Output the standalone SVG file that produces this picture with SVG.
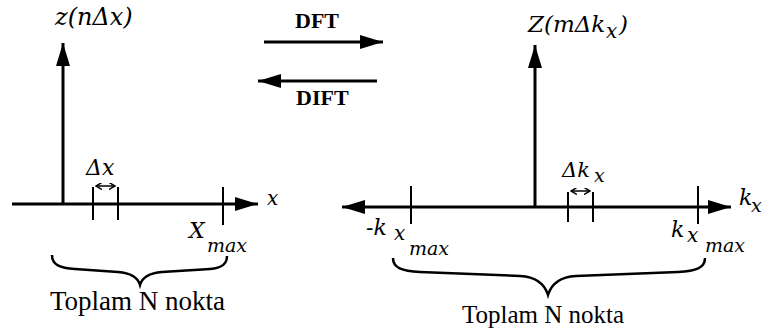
<svg xmlns="http://www.w3.org/2000/svg" width="762" height="335" viewBox="0 0 762 335">
<style>
.ax{stroke:#000;stroke-width:3;fill:none}
.tk{stroke:#000;stroke-width:2;fill:none}
.br{stroke:#000;stroke-width:2.5;fill:none;stroke-linejoin:miter}
</style>
<defs>
<marker id="ah" markerUnits="userSpaceOnUse" markerWidth="24" markerHeight="14" refX="23" refY="7" orient="auto">
<path d="M0,0 L23,7 L0,14 z" fill="#000"/>
</marker>
<marker id="ahs" markerUnits="userSpaceOnUse" markerWidth="24" markerHeight="14" refX="23" refY="7" orient="auto-start-reverse">
<path d="M0,0 L23,7 L0,14 z" fill="#000"/>
</marker>
<marker id="sa" markerUnits="userSpaceOnUse" markerWidth="7" markerHeight="7" refX="6" refY="3.5" orient="auto-start-reverse">
<path d="M0,0 L6,3.5 L0,7" fill="none" stroke="#000" stroke-width="1.5"/>
</marker>
</defs>

<g id="connectors">
<line class="ax" x1="264" y1="42" x2="383" y2="42" marker-end="url(#ah)"/>
<line class="ax" x1="377" y1="81" x2="258" y2="81" marker-end="url(#ah)"/>
</g>

<g id="labels-transform">
<text x="295" y="28" font-size="22" font-family="Liberation Serif" font-weight="bold">DFT</text>
<text x="296" y="105" font-size="22" font-family="Liberation Serif" font-weight="bold">DIFT</text>
</g>

<g id="left-plot">
<line class="ax" x1="63" y1="204" x2="63" y2="43" marker-end="url(#ah)"/>
<line class="ax" x1="12" y1="204" x2="258" y2="204" marker-end="url(#ah)"/>
<line class="tk" x1="93" y1="187" x2="93" y2="220"/>
<line class="tk" x1="118" y1="187" x2="118" y2="220"/>
<line class="tk" x1="223" y1="187" x2="223" y2="225"/>
<line x1="96" y1="186" x2="115" y2="186" stroke="#000" stroke-width="1.5" marker-start="url(#sa)" marker-end="url(#sa)"/>
<text x="55" y="25" font-size="24" font-family="DejaVu Serif" font-style="italic">z(nΔx)</text>
<text x="86" y="175" font-size="22" font-family="DejaVu Serif" font-style="italic">Δx</text>
<text x="267" y="205" font-size="20" font-family="DejaVu Serif" font-style="italic">x</text>
<text x="189" y="238" font-size="22" font-family="DejaVu Serif" font-style="italic">X</text>
<text x="207" y="252" font-size="19" font-family="DejaVu Serif" font-style="italic">max</text>
<path class="br" d="M52,255 C52,265 60,268 75,269 L118,272 C131,273 138,278 140,285 C142,278 149,273 162,272 L210,269 C222,268 227,264 227,256"/>
<text x="50" y="310" font-size="27" font-family="Liberation Serif">Toplam N nokta</text>
</g>

<g id="right-plot">
<line class="ax" x1="535" y1="207" x2="535" y2="45" marker-end="url(#ah)"/>
<line class="ax" x1="342" y1="207" x2="731" y2="207" marker-start="url(#ahs)" marker-end="url(#ah)"/>
<line class="tk" x1="411" y1="186" x2="411" y2="224"/>
<line class="tk" x1="698" y1="186" x2="698" y2="224"/>
<line class="tk" x1="568" y1="192" x2="568" y2="222"/>
<line class="tk" x1="593" y1="192" x2="593" y2="222"/>
<line x1="571" y1="191" x2="590" y2="191" stroke="#000" stroke-width="1.5" marker-start="url(#sa)" marker-end="url(#sa)"/>
<text x="528" y="32" font-size="23" font-family="DejaVu Serif" font-style="italic">Z(mΔk</text>
<text x="606" y="38" font-size="20" font-family="DejaVu Serif" font-style="italic">x</text>
<text x="619" y="32" font-size="23" font-family="DejaVu Serif" font-style="italic">)</text>
<text x="562" y="177" font-size="21" font-family="DejaVu Serif" font-style="italic">Δk</text>
<text x="594" y="182" font-size="19" font-family="DejaVu Serif" font-style="italic">x</text>
<text x="739" y="205" font-size="22" font-family="DejaVu Serif" font-style="italic">k</text>
<text x="751" y="212" font-size="19" font-family="DejaVu Serif" font-style="italic">x</text>
<text x="366" y="235" font-size="22" font-family="DejaVu Serif" font-style="italic">-k</text>
<text x="394" y="240" font-size="20" font-family="DejaVu Serif" font-style="italic">x</text>
<text x="409" y="255" font-size="19" font-family="DejaVu Serif" font-style="italic">max</text>
<text x="671" y="237" font-size="22" font-family="DejaVu Serif" font-style="italic">k</text>
<text x="687" y="242" font-size="20" font-family="DejaVu Serif" font-style="italic">x</text>
<text x="705" y="252" font-size="19" font-family="DejaVu Serif" font-style="italic">max</text>
<path class="br" d="M393,258 C393,268 402,271 420,272 L520,276 C538,277 545,285 548,295 C551,285 558,277 576,276 L678,272 C696,271 705,268 705,258"/>
<text x="462" y="323" font-size="25" font-family="Liberation Serif">Toplam N nokta</text>
</g>
</svg>
